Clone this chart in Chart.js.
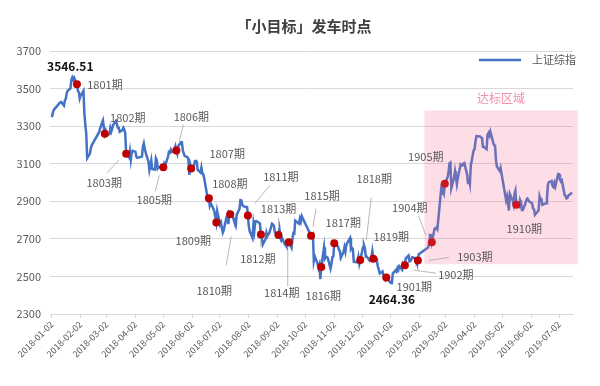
<!DOCTYPE html>
<html>
<head>
<meta charset="utf-8">
<script src="https://cdn.jsdelivr.net/npm/chart.js@4.4.1/dist/chart.umd.min.js"></script>
<style>
  html, body { margin: 0; background: #fff; }
  #wrap { width: 600px; height: 386px; }
</style>
</head>
<body>
<div id="wrap"><canvas id="chart"></canvas></div>
<script>
// 上证综指 daily closes, one line per month
const tradeDates = [
  '2018-01-02','2018-01-03','2018-01-04','2018-01-05','2018-01-08','2018-01-09','2018-01-10','2018-01-11','2018-01-12','2018-01-15','2018-01-16','2018-01-17','2018-01-18','2018-01-19','2018-01-22','2018-01-23','2018-01-24','2018-01-25','2018-01-26','2018-01-29','2018-01-30','2018-01-31',
  '2018-02-01','2018-02-02','2018-02-05','2018-02-06','2018-02-07','2018-02-08','2018-02-09','2018-02-12','2018-02-13','2018-02-14','2018-02-22','2018-02-23','2018-02-26','2018-02-27','2018-02-28',
  '2018-03-01','2018-03-02','2018-03-05','2018-03-06','2018-03-07','2018-03-08','2018-03-09','2018-03-12','2018-03-13','2018-03-14','2018-03-15','2018-03-16','2018-03-19','2018-03-20','2018-03-21','2018-03-22','2018-03-23','2018-03-26','2018-03-27','2018-03-28','2018-03-29','2018-03-30',
  '2018-04-02','2018-04-03','2018-04-04','2018-04-09','2018-04-10','2018-04-11','2018-04-12','2018-04-13','2018-04-16','2018-04-17','2018-04-18','2018-04-19','2018-04-20','2018-04-23','2018-04-24','2018-04-25','2018-04-26','2018-04-27',
  '2018-05-02','2018-05-03','2018-05-04','2018-05-07','2018-05-08','2018-05-09','2018-05-10','2018-05-11','2018-05-14','2018-05-15','2018-05-16','2018-05-17','2018-05-18','2018-05-21','2018-05-22','2018-05-23','2018-05-24','2018-05-25','2018-05-28','2018-05-29','2018-05-30','2018-05-31',
  '2018-06-01','2018-06-04','2018-06-05','2018-06-06','2018-06-07','2018-06-08','2018-06-11','2018-06-12','2018-06-13','2018-06-14','2018-06-15','2018-06-19','2018-06-20','2018-06-21','2018-06-22','2018-06-25','2018-06-26','2018-06-27','2018-06-28','2018-06-29',
  '2018-07-02','2018-07-03','2018-07-04','2018-07-05','2018-07-06','2018-07-09','2018-07-10','2018-07-11','2018-07-12','2018-07-13','2018-07-16','2018-07-17','2018-07-18','2018-07-19','2018-07-20','2018-07-23','2018-07-24','2018-07-25','2018-07-26','2018-07-27','2018-07-30','2018-07-31',
  '2018-08-01','2018-08-02','2018-08-03','2018-08-06','2018-08-07','2018-08-08','2018-08-09','2018-08-10','2018-08-13','2018-08-14','2018-08-15','2018-08-16','2018-08-17','2018-08-20','2018-08-21','2018-08-22','2018-08-23','2018-08-24','2018-08-27','2018-08-28','2018-08-29','2018-08-30','2018-08-31',
  '2018-09-03','2018-09-04','2018-09-05','2018-09-06','2018-09-07','2018-09-10','2018-09-11','2018-09-12','2018-09-13','2018-09-14','2018-09-17','2018-09-18','2018-09-19','2018-09-20','2018-09-21','2018-09-25','2018-09-26','2018-09-27','2018-09-28',
  '2018-10-08','2018-10-09','2018-10-10','2018-10-11','2018-10-12','2018-10-15','2018-10-16','2018-10-17','2018-10-18','2018-10-19','2018-10-22','2018-10-23','2018-10-24','2018-10-25','2018-10-26','2018-10-29','2018-10-30','2018-10-31',
  '2018-11-01','2018-11-02','2018-11-05','2018-11-06','2018-11-07','2018-11-08','2018-11-09','2018-11-12','2018-11-13','2018-11-14','2018-11-15','2018-11-16','2018-11-19','2018-11-20','2018-11-21','2018-11-22','2018-11-23','2018-11-26','2018-11-27','2018-11-28','2018-11-29','2018-11-30',
  '2018-12-03','2018-12-04','2018-12-05','2018-12-06','2018-12-07','2018-12-10','2018-12-11','2018-12-12','2018-12-13','2018-12-14','2018-12-17','2018-12-18','2018-12-19','2018-12-20','2018-12-21','2018-12-24','2018-12-25','2018-12-26','2018-12-27','2018-12-28',
  '2019-01-02','2019-01-03','2019-01-04','2019-01-07','2019-01-08','2019-01-09','2019-01-10','2019-01-11','2019-01-14','2019-01-15','2019-01-16','2019-01-17','2019-01-18','2019-01-21','2019-01-22','2019-01-23','2019-01-24','2019-01-25','2019-01-28','2019-01-29','2019-01-30','2019-01-31',
  '2019-02-01','2019-02-11','2019-02-12','2019-02-13','2019-02-14','2019-02-15','2019-02-18','2019-02-19','2019-02-20','2019-02-21','2019-02-22','2019-02-25','2019-02-26','2019-02-27','2019-02-28',
  '2019-03-01','2019-03-04','2019-03-05','2019-03-06','2019-03-07','2019-03-08','2019-03-11','2019-03-12','2019-03-13','2019-03-14','2019-03-15','2019-03-18','2019-03-19','2019-03-20','2019-03-21','2019-03-22','2019-03-25','2019-03-26','2019-03-27','2019-03-28','2019-03-29',
  '2019-04-01','2019-04-02','2019-04-03','2019-04-04','2019-04-08','2019-04-09','2019-04-10','2019-04-11','2019-04-12','2019-04-15','2019-04-16','2019-04-17','2019-04-18','2019-04-19','2019-04-22','2019-04-23','2019-04-24','2019-04-25','2019-04-26','2019-04-29','2019-04-30',
  '2019-05-06','2019-05-07','2019-05-08','2019-05-09','2019-05-10','2019-05-13','2019-05-14','2019-05-15','2019-05-16','2019-05-17','2019-05-20','2019-05-21','2019-05-22','2019-05-23','2019-05-24','2019-05-27','2019-05-28','2019-05-29','2019-05-30','2019-05-31',
  '2019-06-03','2019-06-04','2019-06-05','2019-06-06','2019-06-10','2019-06-11','2019-06-12','2019-06-13','2019-06-14','2019-06-17','2019-06-18','2019-06-19','2019-06-20','2019-06-21','2019-06-24','2019-06-25','2019-06-26','2019-06-27','2019-06-28',
  '2019-07-01','2019-07-02','2019-07-03','2019-07-04','2019-07-05','2019-07-08','2019-07-09','2019-07-10','2019-07-11','2019-07-12','2019-07-15','2019-07-16'
];
const closes = [
  3348,3369,3386,3392,3409,3414,3422,3425,3429,3410,3437,3445,3475,3488,3501,3547,3559,3548,3558,3523,3488,3481,
  3447,3462,3488,3371,3309,3262,3130,3154,3185,3199,3269,3289,3330,3292,3259,
  3274,3255,3257,3290,3272,3288,3307,3327,3310,3291,3291,3270,3279,3291,3281,3263,3153,3134,3167,3122,3161,3169,
  3163,3137,3131,3138,3190,3208,3180,3159,3111,3067,3091,3117,3072,3068,3129,3118,3075,3082,
  3081,3101,3091,3137,3162,3159,3174,3163,3174,3192,3170,3154,3193,3214,3214,3169,3155,3141,3135,3120,3041,3095,
  3075,3091,3114,3115,3110,3067,3053,3080,3050,3044,3022,2908,2916,2876,2890,2859,2845,2813,2787,2847,
  2776,2787,2759,2734,2747,2815,2828,2778,2838,2831,2814,2798,2787,2773,2829,2860,2906,2904,2882,2874,2869,2876,
  2825,2768,2740,2705,2779,2744,2794,2795,2786,2781,2723,2706,2669,2698,2733,2715,2725,2729,2781,2778,2769,2738,2725,
  2721,2751,2704,2692,2702,2669,2665,2656,2687,2682,2652,2700,2731,2729,2797,2781,2807,2792,2821,
  2717,2721,2726,2583,2607,2568,2546,2562,2486,2550,2655,2595,2603,2604,2599,2542,2568,2603,
  2606,2676,2665,2659,2641,2636,2599,2631,2655,2632,2668,2679,2704,2645,2652,2646,2579,2576,2575,2602,2567,2588,
  2655,2666,2650,2605,2606,2585,2594,2602,2634,2594,2598,2577,2550,2536,2516,2527,2505,2498,2483,2494,
  2465,2464.36,2515,2533,2526,2544,2535,2554,2536,2570,2570,2560,2596,2611,2580,2581,2592,2602,2597,2594,2576,2585,
  2618,2654,2672,2721,2720,2682,2754,2756,2761,2752,2804,2961,2942,2954,2941,
  2994,3028,3054,3102,3106,2970,3027,3060,3027,2991,3022,3096,3091,3091,3101,3104,3043,2997,3023,2995,3091,
  3170,3177,3216,3247,3245,3240,3242,3190,3189,3178,3254,3263,3250,3271,3215,3199,3202,3124,3086,3062,3078,
  2906,2926,2894,2851,2939,2904,2884,2939,2956,2882,2871,2906,2892,2853,2853,2892,2910,2915,2906,2899,
  2890,2862,2861,2828,2852,2926,2909,2911,2882,2888,2890,2918,2987,3002,3008,2982,2976,2997,2979,
  3045,3044,3015,3005,3011,2933,2928,2915,2918,2931,2942,2938
];

const tickLabels = ['2018-01-02','2018-02-02','2018-03-02','2018-04-02','2018-05-02','2018-06-02','2018-07-02',
  '2018-08-02','2018-09-02','2018-10-02','2018-11-02','2018-12-02','2019-01-02','2019-02-02','2019-03-02',
  '2019-04-02','2019-05-02','2019-06-02','2019-07-02'];

// 发车 dates and their names
const dotDates = ['2018-01-29','2018-02-28','2018-03-23','2018-05-02','2018-05-16','2018-06-01','2018-06-20',
  '2018-06-28','2018-07-13','2018-08-01','2018-08-15','2018-09-03','2018-09-14','2018-10-08','2018-10-19',
  '2018-11-02','2018-11-30','2018-12-14','2018-12-28','2019-01-17','2019-01-31','2019-02-15','2019-03-01','2019-05-17'];
const dotNames = ['1801期','1802期','1803期','1805期','1806期','1807期','1808期','1809期','1810期','1811期',
  '1812期','1813期','1814期','1815期','1816期','1817期','1818期','1819期','1901期','1902期','1903期',
  '1904期','1905期','1910期'];

const noteDates = ['2018-01-24','2019-01-03'];
const noteTexts = ['3546.51','2464.36'];

const zoneDates = ['2019-02-07','2019-07-22'];
const zoneValues = [2565, 3383];
const zoneName = '达标区域';
const seriesName = '上证综指';
const title = '「小目标」发车时点';

// label placement, pixels from the dot: [dx, dy] for text, [x1, y1, x2, y2] for the leader
const labelOffsets = [[28,1],[23,-16],[-22,29],[-9,33],[15,-34],[36,-15],[21,-14],[-23,18],[-16,77],[33,-39],
  [-3,24],[0,-26],[-7,51],[11,-40],[2,29],[9,-21],[14,-81],[18,-22],[28,9],[51,10],[57,-4],[-22,-34],[-19,-27],[8,24]];
const leaderOffsets = [null,null,[-7,6,-19,19],[-4,8,-8,24],[7,-26,3,-9],null,null,null,[1,22,-4,51],[22,-30,7,-12],
  [0,5,0,12],[0,-17,0,-9],[-1,4,-1,44],[5,-27,2,-9],null,null,[11,-62,6,-20],null,null,[9,5,31,8],[11,0,31,-3],
  [-13,-26,-6,-7],null,null];
const noteOffsets = [[-2,-11],[0,16]];

const DAY0 = Date.UTC(2018, 0, 2);
function dayNum(s) {
  const [y, m, d] = s.split('-').map(Number);
  return (Date.UTC(y, m - 1, d) - DAY0) / 86400000;
}
function closeOn(s) { return closes[tradeDates.indexOf(s)]; }

const tickDays = tickLabels.map(dayNum);
const linePoints = tradeDates.map((d, i) => ({ x: dayNum(d), y: closes[i] }));
const dotPoints = dotDates.map(d => ({ x: dayNum(d), y: closeOn(d) }));

Chart.defaults.font.family = '"Noto Sans CJK SC", "Noto Sans", sans-serif';

const annotations = {
  id: 'annotations',
  afterDatasetsDraw(chart) {
    const ctx = chart.ctx, xs = chart.scales.x, ys = chart.scales.y;
    ctx.save();

    // target zone, laid over the line
    const zx1 = xs.getPixelForValue(dayNum(zoneDates[0]));
    const zx2 = xs.getPixelForValue(dayNum(zoneDates[1]));
    const zy1 = ys.getPixelForValue(zoneValues[1]);
    const zy2 = ys.getPixelForValue(zoneValues[0]);
    ctx.fillStyle = 'rgba(248,105,140,0.22)';
    ctx.fillRect(zx1, zy1, zx2 - zx1, zy2 - zy1);
    ctx.fillStyle = '#F28EAA';
    ctx.font = '12px "Noto Sans CJK SC"';
    ctx.textAlign = 'center';
    ctx.textBaseline = 'middle';
    ctx.fillText(zoneName, (zx1 + zx2) / 2, zy1 - 12);

    // leaders
    ctx.strokeStyle = '#A6A6A6';
    ctx.lineWidth = 0.8;
    dotPoints.forEach((p, i) => {
      const l = leaderOffsets[i];
      if (!l) return;
      const px = xs.getPixelForValue(p.x), py = ys.getPixelForValue(p.y);
      ctx.beginPath();
      ctx.moveTo(px + l[0], py + l[1]);
      ctx.lineTo(px + l[2], py + l[3]);
      ctx.stroke();
    });

    // period names
    ctx.fillStyle = '#595959';
    ctx.font = '11px "Noto Sans CJK SC"';
    dotPoints.forEach((p, i) => {
      const px = xs.getPixelForValue(p.x), py = ys.getPixelForValue(p.y);
      ctx.fillText(dotNames[i], px + labelOffsets[i][0], py + labelOffsets[i][1]);
    });

    // high / low notes
    ctx.fillStyle = '#111';
    ctx.font = 'bold 12px "Noto Sans CJK SC"';
    noteDates.forEach((d, i) => {
      const px = xs.getPixelForValue(dayNum(d)), py = ys.getPixelForValue(closeOn(d));
      ctx.fillText(noteTexts[i], px + noteOffsets[i][0], py + noteOffsets[i][1]);
    });

    // title
    ctx.fillStyle = '#404040';
    ctx.font = 'bold 15px "Noto Sans CJK SC"';
    ctx.fillText(title, 304, 26);

    // legend
    ctx.strokeStyle = '#4472C4';
    ctx.lineWidth = 2.5;
    ctx.beginPath();
    ctx.moveTo(479, 60);
    ctx.lineTo(521, 60);
    ctx.stroke();
    ctx.fillStyle = '#595959';
    ctx.font = '11px "Noto Sans CJK SC"';
    ctx.textAlign = 'left';
    ctx.fillText(seriesName, 532, 60);

    ctx.restore();
  }
};

new Chart(document.getElementById('chart'), {
  type: 'line',
  data: {
    datasets: [
      {
        label: '发车',
        data: dotPoints,
        showLine: false,
        pointRadius: 4,
        pointBorderWidth: 0,
        pointBackgroundColor: '#C00000',
        order: 0
      },
      {
        label: seriesName,
        data: linePoints,
        borderColor: '#4472C4',
        borderWidth: 2.5,
        pointRadius: 0,
        tension: 0,
        order: 1
      }
    ]
  },
  options: {
    responsive: true,
    maintainAspectRatio: false,
    animation: false,
    layout: { padding: { top: 51, right: 27, left: 0, bottom: 0 } },
    plugins: { legend: { display: false }, tooltip: { enabled: false } },
    scales: {
      x: {
        type: 'linear',
        min: -2,
        max: 561,
        afterBuildTicks: axis => { axis.ticks = tickDays.map(v => ({ value: v })); },
        afterFit: axis => { axis.height = 72; },
        ticks: {
          autoSkip: false,
          maxRotation: 45,
          minRotation: 45,
          padding: 1,
          color: '#595959',
          font: { size: 9 },
          callback: (v, i) => tickLabels[i]
        },
        grid: { drawOnChartArea: false, drawTicks: true, tickLength: 4, color: '#D9D9D9' },
        border: { color: '#D9D9D9' }
      },
      y: {
        min: 2300,
        max: 3700,
        afterFit: axis => { axis.width = 50; },
        ticks: { stepSize: 200, padding: 9, color: '#595959', font: { size: 11 }, callback: v => String(v) },
        grid: { color: '#D9D9D9', drawTicks: false },
        border: { display: false }
      }
    }
  },
  plugins: [annotations]
});
</script>
</body>
</html>
